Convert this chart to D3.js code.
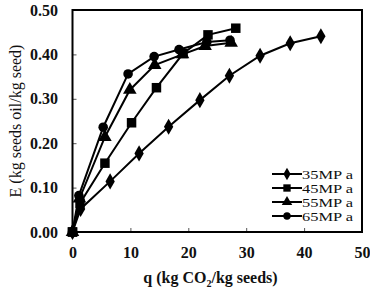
<!DOCTYPE html>
<html><head><meta charset="utf-8">
<script src="https://cdn.jsdelivr.net/npm/d3@7"></script>
<style>body{margin:0;background:#fff}svg{display:block}</style>
</head><body>
<script>
const seriesNames = ["35MP a", "45MP a", "55MP a", "65MP a"];
const q35 = [0, 1.4, 6.5, 11.5, 16.6, 22.0, 27.1, 32.4, 37.6, 42.9];
const e35 = [0, 0.052, 0.114, 0.177, 0.237, 0.297, 0.352, 0.397, 0.425, 0.441];
const q45 = [0, 1.3, 5.6, 10.2, 14.5, 19.1, 23.4, 28.2];
const e45 = [0, 0.065, 0.155, 0.246, 0.325, 0.402, 0.444, 0.459];
const q55 = [0, 1.2, 5.6, 9.9, 14.2, 19.0, 22.9, 27.4];
const e55 = [0, 0.075, 0.214, 0.320, 0.376, 0.400, 0.419, 0.426];
const q65 = [0, 1.1, 5.3, 9.6, 14.1, 18.4, 23.2, 27.2];
const e65 = [0, 0.082, 0.236, 0.356, 0.395, 0.411, 0.428, 0.432];
const xTicks = [0, 10, 20, 30, 40, 50];
const yTicks = [0, 0.1, 0.2, 0.3, 0.4, 0.5];
const markers = [d3.symbolDiamond, d3.symbolSquare, d3.symbolTriangle, d3.symbolCircle];
const markerSizes = [75, 90, 80, 72];

const W = 370, H = 289;
const svg = d3.select("body").append("svg").attr("width", W).attr("height", H);
const x = d3.scaleLinear().domain([0, 50]).range([72.5, 362]);
const y = d3.scaleLinear().domain([0, 0.5]).range([232, 10]);
const font = "'Liberation Serif', 'Times New Roman', serif";

// axes
const xa = svg.append("g").attr("transform", "translate(0,232)")
  .call(d3.axisBottom(x).tickValues(xTicks).tickSize(-4).tickPadding(15).tickFormat(d3.format("d")));
const ya = svg.append("g").attr("transform", "translate(72.5,0)")
  .call(d3.axisLeft(y).tickValues(yTicks).tickSize(-4).tickPadding(14.5).tickFormat(d3.format(".2f")));
[xa, ya].forEach(a => {
  a.select(".domain").remove();
  a.selectAll("line").attr("stroke", "#555").attr("stroke-width", 1);
  a.selectAll("text").attr("font-family", font).attr("font-size", 16).attr("font-weight", "bold").attr("fill", "#111");
});
xa.selectAll(".tick").filter(d => d === 0 || d === 50).select("line").remove();
ya.selectAll(".tick").filter(d => d === 0 || d === 0.5).select("line").remove();

// frame
svg.append("rect").attr("x", x(0)).attr("y", y(0.5)).attr("width", x(50) - x(0)).attr("height", y(0) - y(0.5))
  .attr("fill", "none").attr("stroke", "#000").attr("stroke-width", 2);

const qs = [q35, q45, q55, q65], es = [e35, e45, e55, e65];
const line = d3.line().x(d => x(d[0])).y(d => y(d[1]));
seriesNames.forEach((name, i) => {
  const pts = qs[i].map((q, j) => [q, es[i][j]]);
  const g = svg.append("g");
  g.append("path").datum(pts).attr("d", line).attr("fill", "none").attr("stroke", "#000").attr("stroke-width", 2);
  g.selectAll("path.m").data(pts).enter().append("path").attr("class", "m")
    .attr("transform", d => `translate(${x(d[0])},${y(d[1])})`)
    .attr("d", d3.symbol().type(markers[i]).size(markerSizes[i])).attr("fill", "#000");
});
// origin square on top
svg.append("path").attr("transform", `translate(${x(0)},${y(0)})`).attr("d", d3.symbol().type(d3.symbolSquare).size(90)).attr("fill", "#000");

// legend
const leg = svg.append("g");
seriesNames.forEach((name, i) => {
  const ly = 174 + i * 14;
  leg.append("line").attr("x1", 272).attr("x2", 302).attr("y1", ly).attr("y2", ly).attr("stroke", "#000").attr("stroke-width", 2);
  leg.append("path").attr("transform", `translate(287,${ly})`).attr("d", d3.symbol().type(markers[i]).size(markerSizes[i] * 0.6)).attr("fill", "#000");
  leg.append("text").attr("x", 302).attr("y", ly).attr("dy", "0.35em").attr("font-family", font).attr("font-size", 13.5)
    .attr("textLength", 51).attr("lengthAdjust", "spacingAndGlyphs").attr("fill", "#111").text(name);
});

// axis titles
const xt = svg.append("text").attr("x", 210.5).attr("y", 277).attr("dy", "0.35em").attr("text-anchor", "middle")
  .attr("font-family", font).attr("font-size", 16).attr("font-weight", "bold").attr("fill", "#111");
xt.append("tspan").text("q (kg CO");
xt.append("tspan").attr("font-size", 10).attr("dy", 4).text("2");
xt.append("tspan").attr("dy", -4).text("/kg seeds)");
svg.append("text").attr("transform", "translate(15,121) rotate(-90)").attr("dy", "0.35em").attr("text-anchor", "middle")
  .attr("font-family", font).attr("font-size", 16).attr("fill", "#111").text("E (kg seeds oil/kg seed)");
</script>
</body></html>
